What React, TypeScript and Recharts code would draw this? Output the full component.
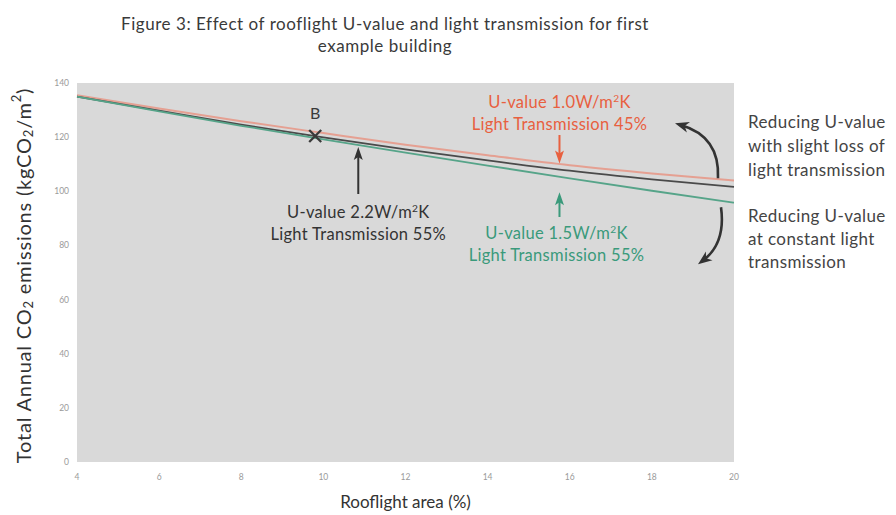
import React from 'react';
import {
  LineChart,
  Line,
  XAxis,
  YAxis,
  CartesianGrid,
  ReferenceDot,
  ReferenceLine,
  Customized,
  Label,
} from 'recharts';

const rooflightArea = [4, 6, 8, 10, 12, 14, 16, 18, 20];
const u10lt45 = [135.5, 130.6, 125.9, 121.5, 117.2, 113.3, 109.6, 106.6, 104.0];
const u22lt55 = [135.0, 129.8, 124.6, 119.9, 115.5, 111.4, 107.6, 104.4, 101.6];
const u15lt55 = [135.0, 129.5, 124.2, 119.2, 114.3, 109.5, 104.8, 100.2, 95.8];
const xTicks = [4, 6, 8, 10, 12, 14, 16, 18, 20];
const yTicks = [0, 20, 40, 60, 80, 100, 120, 140];

const pointB = { x: 9.8, y: 120.4 };
const arrowDark = { x: 10.85, from: 99, to: 116.4 };
const arrowRed = { x: 15.75, from: 120.8, to: 110.3 };
const arrowGreen = { x: 15.75, from: 90.5, to: 99.6 };

const titleLines = [
  'Figure 3: Effect of rooflight U-value and light transmission for first',
  'example building',
];
const rightNotesTop = ['Reducing U-value', 'with slight loss of', 'light transmission'];
const rightNotesBottom = ['Reducing U-value', 'at constant light', 'transmission'];

const data = rooflightArea.map((x, i) => ({
  x,
  red: u10lt45[i],
  dark: u22lt55[i],
  green: u15lt55[i],
}));

const FONT = 'Lato, "Open Sans", sans-serif';
const RED = '#e5a092';
const DARK = '#4a4a4a';
const GREEN = '#56a489';
const RED_TXT = '#e8603f';
const GREEN_TXT = '#3a9a7b';
const DARK_TXT = '#333333';

function Sup({ children }: { children: React.ReactNode }) {
  return (
    <tspan fontSize="0.62em" dy="-0.55em">
      {children}
    </tspan>
  );
}

function twoLines(
  cx: number,
  y: number,
  l1: React.ReactNode,
  l2: React.ReactNode,
  color: string
) {
  return (
    <g fontFamily={FONT} fontSize={16.5} fill={color} textAnchor="middle" letterSpacing={0.3}>
      <text x={cx} y={y}>{l1}</text>
      <text x={cx} y={y + 22}>{l2}</text>
    </g>
  );
}

function makeArrow(color: string, dir: 'up' | 'down', label?: (tailX: number, tailY: number) => React.ReactNode) {
  return (p: any) => {
    const { x1, y1, x2, y2 } = p;
    const pts = [
      { x: x1, y: y1 },
      { x: x2, y: y2 },
    ].sort((a, b) => a.y - b.y);
    const tip = dir === 'up' ? pts[0] : pts[1];
    const tail = dir === 'up' ? pts[1] : pts[0];
    const s = dir === 'up' ? 1 : -1;
    const headL = 13;
    const headW = 4.5;
    return (
      <g>
        <line x1={tail.x} y1={tail.y} x2={tip.x} y2={tip.y + s * 8} stroke={color} strokeWidth={2} />
        <polygon
          points={`${tip.x},${tip.y} ${tip.x - headW},${tip.y + s * headL} ${tip.x},${tip.y + s * (headL - 3)} ${tip.x + headW},${tip.y + s * headL}`}
          fill={color}
        />
        {label ? label(tail.x, tail.y) : null}
      </g>
    );
  };
}

const uDarkLabel = (
  <>
    U-value 2.2W/m<Sup>2</Sup>
    <tspan dy="0.34em">K</tspan>
  </>
);
const uRedLabel = (
  <>
    U-value 1.0W/m<Sup>2</Sup>
    <tspan dy="0.34em">K</tspan>
  </>
);
const uGreenLabel = (
  <>
    U-value 1.5W/m<Sup>2</Sup>
    <tspan dy="0.34em">K</tspan>
  </>
);

const BShape = (p: any) => {
  const { cx, cy } = p;
  const d = 6;
  return (
    <g>
      <line x1={cx - d} y1={cy - d} x2={cx + d} y2={cy + d} stroke="#3a3a3a" strokeWidth={2.3} />
      <line x1={cx - d} y1={cy + d} x2={cx + d} y2={cy - d} stroke="#3a3a3a" strokeWidth={2.3} />
      <text x={cx} y={cy - 17} textAnchor="middle" fontFamily={FONT} fontSize={16} fill="#3a3a3a">
        B
      </text>
    </g>
  );
};

function curvedArrow(p0: number[], c: number[], p2: number[]) {
  const dx = p2[0] - c[0];
  const dy = p2[1] - c[1];
  const len = Math.sqrt(dx * dx + dy * dy);
  const ux = dx / len;
  const uy = dy / len;
  const L = 14;
  const W = 5.5;
  const bx = p2[0] - ux * L;
  const by = p2[1] - uy * L;
  const ex = p2[0] - ux * (L - 8);
  const ey = p2[1] - uy * (L - 8);
  return (
    <g>
      <path
        d={`M${p0[0]},${p0[1]} Q${c[0]},${c[1]} ${ex},${ey}`}
        fill="none"
        stroke="#333"
        strokeWidth={2.6}
      />
      <polygon
        points={`${p2[0]},${p2[1]} ${bx - uy * W},${by + ux * W} ${p2[0] - ux * (L - 4)},${p2[1] - uy * (L - 4)} ${bx + uy * W},${by - ux * W}`}
        fill="#333"
      />
    </g>
  );
}

const CurvedArrows = (p: any) => {
  const { cx, cy } = p;
  const o = (a: number[]) => [cx + a[0], cy + a[1]];
  return (
    <g>
      {curvedArrow(o([-16, -13]), o([-14, -55]), o([-59, -68]))}
      {curvedArrow(o([-13, 16]), o([-8, 52]), o([-36, 73]))}
    </g>
  );
};

const Decorations = () => (
  <g fontFamily={FONT}>
    <g fontSize={17} fill="#3a3a3a" textAnchor="middle" letterSpacing={0.55}>
      <text x={385} y={30}>{titleLines[0]}</text>
      <text x={385} y={52}>{titleLines[1]}</text>
    </g>
    <g fontSize={17} fill="#444" letterSpacing={0.4}>
      {rightNotesTop.map((t, i) => (
        <text key={'a' + i} x={748} y={128 + i * 24}>{t}</text>
      ))}
      {rightNotesBottom.map((t, i) => (
        <text key={'b' + i} x={748} y={222 + i * 23}>{t}</text>
      ))}
    </g>
  </g>
);

const YLabel = (props: any) => {
  const vb = props.viewBox || {};
  const cy = vb.y + vb.height / 2 + 3;
  const cx = 23;
  return (
    <text
      x={cx}
      y={cy}
      transform={`rotate(-90 ${cx} ${cy})`}
      textAnchor="middle"
      dominantBaseline="central"
      fontFamily={FONT}
      fontSize={20}
      letterSpacing={0.8}
      fill="#333"
    >
      Total Annual CO
      <tspan fontSize={13} dy={5}>2</tspan>
      <tspan dy={-5}> emissions (kgCO</tspan>
      <tspan fontSize={13} dy={5}>2</tspan>
      <tspan dy={-5}>/m</tspan>
      <tspan fontSize={13} dy={-7}>2</tspan>
      <tspan dy={7}>)</tspan>
    </text>
  );
};

const tickStyle = { fontSize: 8.5, fill: '#9a9a9a', fontFamily: FONT };

export default function App() {
  return (
    <div style={{ position: 'absolute', left: 0, top: 0, width: 896, height: 515, background: '#fff' }}>
      <LineChart
        width={896}
        height={515}
        data={data}
        margin={{ top: 83, right: 162, bottom: 33, left: 47 }}
      >
        <CartesianGrid horizontal={false} vertical={false} fill="#d9d9d9" stroke="none" />
        <XAxis
          dataKey="x"
          type="number"
          domain={[4, 20]}
          ticks={xTicks}
          axisLine={false}
          tickLine={false}
          tick={tickStyle}
          height={20}
          tickMargin={6}
        >
          <Label
            value="Rooflight area (%)"
            position="bottom"
            offset={14}
            style={{ fontFamily: FONT, fontSize: 17, fill: '#333' }}
          />
        </XAxis>
        <YAxis
          type="number"
          domain={[0, 140]}
          ticks={yTicks}
          axisLine={false}
          tickLine={false}
          tick={tickStyle}
          width={30}
        >
          <Label content={<YLabel />} />
        </YAxis>
        <Line dataKey="red" type="monotone" stroke={RED} strokeWidth={2} dot={false} isAnimationActive={false} />
        <Line dataKey="dark" type="monotone" stroke={DARK} strokeWidth={1.8} dot={false} isAnimationActive={false} />
        <Line dataKey="green" type="monotone" stroke={GREEN} strokeWidth={1.8} dot={false} isAnimationActive={false} />
        <ReferenceDot x={pointB.x} y={pointB.y} r={6} shape={BShape} />
        <ReferenceLine
          segment={[
            { x: arrowDark.x, y: arrowDark.from },
            { x: arrowDark.x, y: arrowDark.to },
          ]}
          shape={makeArrow('#333', 'up', (tx, ty) =>
            twoLines(tx, ty + 24, uDarkLabel, 'Light Transmission 55%', DARK_TXT)
          )}
        />
        <ReferenceLine
          segment={[
            { x: arrowRed.x, y: arrowRed.from },
            { x: arrowRed.x, y: arrowRed.to },
          ]}
          shape={makeArrow(RED_TXT, 'down', (tx, ty) =>
            twoLines(tx, ty - 27, uRedLabel, 'Light Transmission 45%', RED_TXT)
          )}
        />
        <ReferenceLine
          segment={[
            { x: arrowGreen.x, y: arrowGreen.from },
            { x: arrowGreen.x, y: arrowGreen.to },
          ]}
          shape={makeArrow(GREEN_TXT, 'up', (tx, ty) =>
            twoLines(tx - 3, ty + 22, uGreenLabel, 'Light Transmission 55%', GREEN_TXT)
          )}
        />
        <ReferenceDot x={20} y={100} r={1} shape={CurvedArrows} ifOverflow="visible" />
        <Customized component={<Decorations />} />
      </LineChart>
    </div>
  );
}
